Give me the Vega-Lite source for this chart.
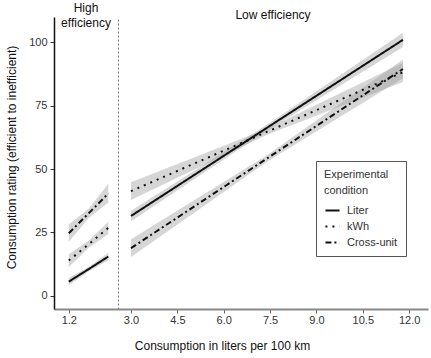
{
  "$schema": "https://vega.github.io/schema/vega-lite/v6.json",
  "padding": {"left": 5, "top": 2, "right": 3, "bottom": 5},
  "spacing": 0,
  "config": {
    "font": "Liberation Sans",
    "view": {"stroke": null},
    "axis": {"labelFontSize": 11, "labelColor": "#333333", "titleFontSize": 12, "titleFontWeight": "normal", "titleColor": "#111111", "grid": false, "tickColor": "#333333", "tickSize": 4, "labelPadding": 3},
    "title": {"fontSize": 12, "fontWeight": "normal", "color": "#111111"}
  },
  "datasets": {
    "high": [
      {"condition": "Liter", "x": 1.2, "y": 5.6, "lo": 4.2, "hi": 7.0},
      {"condition": "Liter", "x": 1.85, "y": 10.5, "lo": 9.6, "hi": 11.4},
      {"condition": "Liter", "x": 2.5, "y": 15.5, "lo": 14.0, "hi": 17.0},
      {"condition": "kWh", "x": 1.2, "y": 13.9, "lo": 11.4, "hi": 16.4},
      {"condition": "kWh", "x": 1.85, "y": 20.3, "lo": 18.9, "hi": 21.7},
      {"condition": "kWh", "x": 2.5, "y": 26.8, "lo": 24.4, "hi": 29.2},
      {"condition": "Cross-unit", "x": 1.2, "y": 24.7, "lo": 21.3, "hi": 28.1},
      {"condition": "Cross-unit", "x": 1.85, "y": 32.5, "lo": 30.6, "hi": 34.4},
      {"condition": "Cross-unit", "x": 2.5, "y": 40.4, "lo": 36.8, "hi": 44.2}
    ],
    "low": [
      {"condition": "Liter", "x": 3.0, "y": 31.5, "lo": 29.4, "hi": 33.6},
      {"condition": "Liter", "x": 7.4, "y": 66.3, "lo": 65.1, "hi": 67.5},
      {"condition": "Liter", "x": 11.8, "y": 101.0, "lo": 98.2, "hi": 103.8},
      {"condition": "kWh", "x": 3.0, "y": 41.3, "lo": 37.8, "hi": 44.8},
      {"condition": "kWh", "x": 7.4, "y": 64.7, "lo": 63.5, "hi": 65.9},
      {"condition": "kWh", "x": 11.8, "y": 88.2, "lo": 84.4, "hi": 92.0},
      {"condition": "Cross-unit", "x": 3.0, "y": 18.8, "lo": 15.3, "hi": 22.3},
      {"condition": "Cross-unit", "x": 7.4, "y": 54.2, "lo": 52.9, "hi": 55.5},
      {"condition": "Cross-unit", "x": 11.8, "y": 89.5, "lo": 85.8, "hi": 93.2}
    ]
  },
  "hconcat": [
    {
      "width": 64,
      "height": 292,
      "title": {"text": ["High", "efficiency"], "offset": -13, "anchor": "middle", "lineHeight": 15},
      "data": {"name": "high"},
      "layer": [
        {
          "mark": {"type": "area", "color": "#999999", "opacity": 0.4},
          "encoding": {
            "x": {"field": "x", "type": "quantitative", "scale": {"domain": [0.714, 2.818], "nice": false, "zero": false},
              "axis": {"values": [1.2], "format": ".1f", "title": null, "domainColor": "#888888", "domainWidth": 2, "tickColor": "#666666", "labelPadding": 1}},
            "y": {"field": "lo", "type": "quantitative", "scale": {"domain": [-5.2, 110], "nice": false, "zero": false},
              "axis": {"values": [0, 25, 50, 75, 100], "title": "Consumption rating (efficient to inefficient)", "titleY": 140, "domainColor": "#111111", "domainWidth": 1.5, "titlePadding": 10}},
            "y2": {"field": "hi"},
            "detail": {"field": "condition"}
          }
        },
        {
          "mark": {"type": "line", "color": "#111111", "strokeWidth": 2, "strokeCap": "butt"},
          "encoding": {
            "x": {"field": "x", "type": "quantitative"},
            "y": {"field": "y", "type": "quantitative"},
            "strokeDash": {"field": "condition", "type": "nominal",
              "scale": {"domain": ["Liter", "kWh", "Cross-unit"], "range": [[1, 0], [2, 5], [6, 3, 2, 3]]},
              "legend": null}
          }
        }
      ]
    },
    {
      "width": 310,
      "height": 292,
      "title": {"text": "Low efficiency", "offset": -5, "anchor": "middle"},
      "data": {"name": "low"},
      "layer": [
        {
          "mark": {"type": "area", "color": "#999999", "opacity": 0.4},
          "encoding": {
            "x": {"field": "x", "type": "quantitative", "scale": {"domain": [2.579, 12.61], "nice": false, "zero": false},
              "axis": {"values": [3, 4.5, 6, 7.5, 9, 10.5, 12], "format": ".1f", "title": "Consumption in liters per 100 km", "titleX": 104, "titlePadding": 15, "labelPadding": 1, "domainColor": "#888888", "domainWidth": 2, "tickColor": "#666666"}},
            "y": {"field": "lo", "type": "quantitative", "scale": {"domain": [-5.2, 110], "nice": false, "zero": false},
              "axis": {"labels": false, "ticks": false, "title": null, "domainDash": [2, 2], "domainColor": "#777777", "domainWidth": 1}},
            "y2": {"field": "hi"},
            "detail": {"field": "condition"}
          }
        },
        {
          "mark": {"type": "line", "color": "#111111", "strokeWidth": 2, "strokeCap": "butt"},
          "encoding": {
            "x": {"field": "x", "type": "quantitative"},
            "y": {"field": "y", "type": "quantitative"},
            "strokeDash": {"field": "condition", "type": "nominal",
              "scale": {"domain": ["Liter", "kWh", "Cross-unit"], "range": [[1, 0], [2, 5], [6, 3, 2, 3]]},
              "legend": {"orient": "none", "legendX": 198, "legendY": 144, "title": ["Experimental", "condition"],
                "padding": 8, "strokeColor": "#555555", "fillColor": "white", "titleFontSize": 11, "titleFontWeight": "normal",
                "titleColor": "#333333", "titleLineHeight": 16, "titlePadding": 6, "labelFontSize": 11, "labelColor": "#333333",
                "symbolType": "stroke", "symbolStrokeWidth": 2, "symbolSize": 200, "symbolStrokeColor": "#111111", "rowPadding": 2, "labelOffset": 6}}
          }
        }
      ]
    }
  ],
  "resolve": {"scale": {"x": "independent", "strokeDash": "independent"}, "legend": {"strokeDash": "independent"}}
}
